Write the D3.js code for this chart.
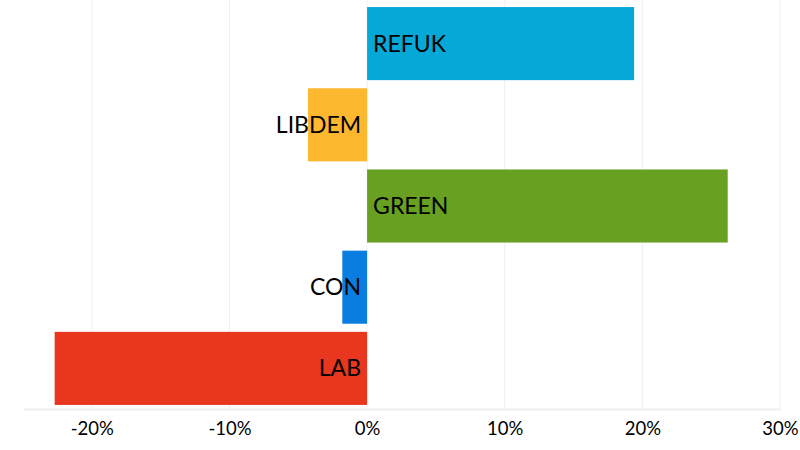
<!DOCTYPE html>
<html>
<head>
<meta charset="utf-8">
<script src="https://cdn.jsdelivr.net/npm/d3@7"></script>
<style>
  body { margin: 0; background: #fff; }
  svg { display: block; font-family: Lato, "Open Sans", sans-serif; }
</style>
</head>
<body>
<svg width="800" height="450"></svg>
<script>
var parties = ['REFUK', 'LIBDEM', 'GREEN', 'CON', 'LAB'];
var change = [19.4, -4.3, 26.2, -1.8, -22.7];
var colours = ['#05a8d6', '#fdb82f', '#68a021', '#0a7de0', '#e9361e'];
var tickValues = [-20, -10, 0, 10, 20, 30];

var width = 800,
    height = 450;

var data = parties.map(function(p, i) {
  return {party: p, value: change[i], color: colours[i]};
});

var x = d3.scaleLinear()
    .domain([-25, 30])
    .range([23, 780]);

var y = d3.scaleBand()
    .domain(parties)
    .range([3, 409])
    .paddingInner(0.1)
    .paddingOuter(0.05);

var svg = d3.select('svg');

// gridlines
svg.append('g')
    .selectAll('line')
    .data(tickValues)
    .enter()
    .append('line')
      .attr('x1', d => x(d))
      .attr('x2', d => x(d))
      .attr('y1', 0)
      .attr('y2', 409)
      .attr('stroke', '#f0eef2')
      .attr('stroke-width', 1);

// bars
svg.append('g')
    .selectAll('rect')
    .data(data)
    .enter()
    .append('rect')
      .attr('x', d => x(Math.min(0, d.value)))
      .attr('width', d => Math.abs(x(d.value) - x(0)))
      .attr('y', d => y(d.party))
      .attr('height', y.bandwidth())
      .attr('fill', d => d.color);

// labels
svg.append('g')
    .selectAll('text')
    .data(data)
    .enter()
    .append('text')
      .attr('x', d => d.value >= 0 ? x(0) + 6 : x(0) - 6)
      .attr('y', d => y(d.party) + y.bandwidth() / 2)
      .attr('dy', '0.35em')
      .style('text-anchor', d => d.value >= 0 ? 'start' : 'end')
      .style('font-size', '23px')
      .style('fill', '#000')
      .text(d => d.party);

// x axis
var xAxis = d3.axisBottom(x)
    .tickValues(tickValues)
    .tickSize(0)
    .tickPadding(13)
    .tickFormat(d => d + '%');

var gx = svg.append('g')
    .attr('transform', 'translate(0,409)')
    .call(xAxis);

gx.select('.domain')
    .attr('stroke', '#f0eef2')
    .attr('stroke-width', 2);

gx.selectAll('text')
    .style('font-family', 'Lato, "Open Sans", sans-serif')
    .style('font-size', '18.5px')
    .style('fill', '#000');
</script>
</body>
</html>
